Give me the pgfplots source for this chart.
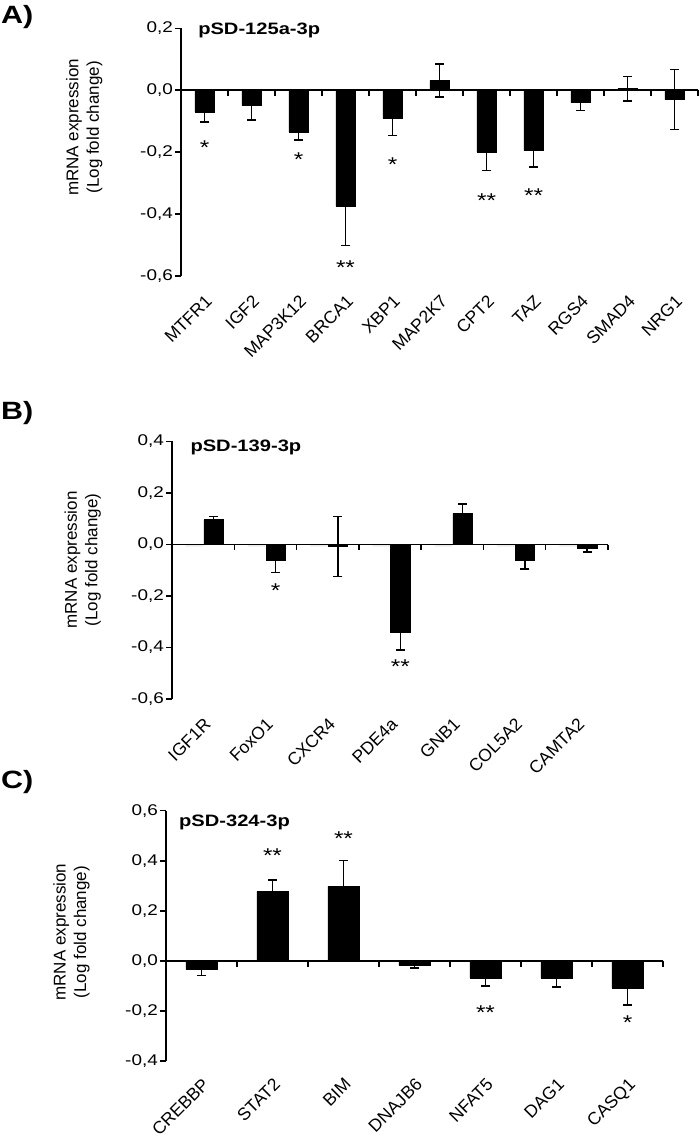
\documentclass[border=0pt]{standalone}
\usepackage{pgfplots}
\pgfplotsset{compat=1.18}
\usepackage{fontspec}
\setmainfont{Liberation Sans}
\newfontfamily\sw{Liberation Sans}[FakeStretch=1.22]
\newcommand\tl{\sw\fontsize{15.5}{18}\selectfont}
\newcommand\xl{\fontsize{17.5}{20}\selectfont}
\newcommand\yl{\fontsize{17}{20.5}\selectfont}
\newcommand\ttl{\sw\bfseries\fontsize{16.5}{18}\selectfont}
\newcommand\pl{\sw\bfseries\fontsize{25}{27}\selectfont}
\newcommand\st{\sw\fontsize{20}{20}\selectfont}
\pgfplotsset{
  panel/.style={
    scale only axis,
    axis y line*=left,
    axis x line*=bottom,
    x axis line style={draw=none},
    xtick style={draw=none},
    y axis line style={line width=1.5pt, -},
    ytick style={line width=1.5pt, black},
    tick align=outside,
    major tick length=6pt,
    yticklabel style={font=\tl, inner sep=2pt},
    xticklabel style={font=\xl, rotate=45, anchor=north east, inner sep=2pt},
    xticklabel shift={9pt},
    ylabel style={font=\yl, align=center, anchor=center},
    clip=false,
  },
  ebar/.style={error bars/.cd, y dir=both, y explicit,
    error mark=-, error mark options={rotate=90, mark size=4.5pt, line width=1.5pt, black},
    error bar style={line width=1.5pt, black}},
  tickmarks/.style={draw=none, mark=none, forget plot,
    error bars/.cd, y dir=minus, y explicit, error mark=none,
    error bar style={draw=black, line width=1.5pt}},
  stars/.style={draw=none, mark=none, forget plot, nodes near coords,
    point meta=explicit symbolic,
    nodes near coords style={anchor=center, font=\st, yshift=-4pt, inner sep=0pt}},
}
\begin{document}
\begin{tikzpicture}
\path[use as bounding box] (0pt,0pt) rectangle (700pt,-1142pt);
\node[anchor=north west, font=\pl, inner sep=0pt] at (1pt,-5pt) {A)};
\node[anchor=north west, font=\pl, inner sep=0pt] at (1pt,-401pt) {B)};
\node[anchor=north west, font=\pl, inner sep=0pt] at (1pt,-770pt) {C)};

% ---------------- Panel A ----------------
\begin{axis}[panel, at={(181pt,-276pt)}, anchor=south west,
  width=517pt, height=247.7pt,
  xmin=-0.5, xmax=10.5, ymin=-0.6, ymax=0.2,
  ytick={-0.6,-0.4,-0.2,0,0.2},
  yticklabels={{-0,6},{-0,4},{-0,2},{0,0},{0,2}},
  xtick={0,...,10},
  xticklabels={MTFR1,IGF2,MAP3K12,BRCA1,XBP1,MAP2K7,CPT2,TAZ,RGS4,SMAD4,NRG1},
  ylabel={mRNA expression\\(Log fold change)},
  ylabel style={at={(axis description cs:-0.187,0.6)}},
]
\addplot[black, line width=1.5pt, forget plot] coordinates {(-0.5,0) (10.5,0)};
\addplot[tickmarks] coordinates {(0.5,0) +- (0,0.02) (1.5,0) +- (0,0.02) (2.5,0) +- (0,0.02) (3.5,0) +- (0,0.02) (4.5,0) +- (0,0.02) (5.5,0) +- (0,0.02) (6.5,0) +- (0,0.02) (7.5,0) +- (0,0.02) (8.5,0) +- (0,0.02) (9.5,0) +- (0,0.02) (10.5,0) +- (0,0.02)};
\addplot[ybar, bar width=0.41, bar shift=0, fill=black, draw=black, ebar] coordinates {
  (0,-0.070) +- (0,0.033)
  (1,-0.049) +- (0,0.047)
  (2,-0.135) +- (0,0.025)
  (3,-0.374) +- (0,0.128)
  (4,-0.091) +- (0,0.055)
  (5,0.031) +- (0,0.053)
  (6,-0.199) +- (0,0.060)
  (7,-0.195) +- (0,0.053)
  (8,-0.040) +- (0,0.025)
  (9,0.005) +- (0,0.040)
  (10,-0.030) +- (0,0.097)
};
\addplot[stars] coordinates {(0,-0.172) [*] (2,-0.210) [*] (3,-0.560) [**] (4,-0.227) [*] (6,-0.345) [**] (7,-0.326) [**]};
\node[anchor=west, font=\ttl, inner sep=0pt] at (axis description cs:0.033,0.99) {pSD-125a-3p};
\end{axis}

% ---------------- Panel B ----------------
\begin{axis}[panel, at={(172pt,-699pt)}, anchor=south west,
  width=436pt, height=257.5pt,
  xmin=-0.5, xmax=6.5, ymin=-0.6, ymax=0.4,
  ytick={-0.6,-0.4,-0.2,0,0.2,0.4},
  yticklabels={{-0,6},{-0,4},{-0,2},{0,0},{0,2},{0,4}},
  xtick={0,...,6},
  xticklabels={IGF1R,FoxO1,CXCR4,PDE4a,GNB1,COL5A2,CAMTA2},
  ylabel={mRNA expression\\(Log fold change)},
  ylabel style={at={(axis description cs:-0.205,0.54)}},
]
\addplot[ybar, bar width=0.28, bar shift=0, fill=gray!15, draw=none, forget plot] coordinates {
  (-0.14,-0.008) (0.86,-0.008) (1.86,-0.008) (2.86,-0.008) (3.86,-0.008) (4.86,-0.008) (5.86,-0.008)};
\addplot[black, line width=1.5pt, forget plot] coordinates {(-0.5,0) (6.5,0)};
\addplot[tickmarks] coordinates {(0.5,0) +- (0,0.023) (1.5,0) +- (0,0.023) (2.5,0) +- (0,0.023) (3.5,0) +- (0,0.023) (4.5,0) +- (0,0.023) (5.5,0) +- (0,0.023) (6.5,0) +- (0,0.023)};
\addplot[ybar, bar width=0.31, bar shift=0, fill=black, draw=black, ebar] coordinates {
  (0.165,0.097) +- (0,0.011)
  (1.165,-0.061) +- (0,0.047)
  (2.165,-0.008) +- (0,0.116)
  (3.165,-0.342) +- (0,0.067)
  (4.165,0.121) +- (0,0.037)
  (5.165,-0.061) +- (0,0.034)
  (6.165,-0.015) +- (0,0.015)
};
\addplot[stars] coordinates {(1.165,-0.163) [*] (3.165,-0.458) [**]};
\node[anchor=west, font=\ttl, inner sep=0pt] at (axis description cs:0.042,0.975) {pSD-139-3p};
\end{axis}

% ---------------- Panel C ----------------
\begin{axis}[panel, at={(166pt,-1061pt)}, anchor=south west,
  width=497pt, height=250.3pt,
  xmin=-0.5, xmax=6.5, ymin=-0.4, ymax=0.6,
  ytick={-0.4,-0.2,0,0.2,0.4,0.6},
  yticklabels={{-0,4},{-0,2},{0,0},{0,2},{0,4},{0,6}},
  xtick={0,...,6},
  xticklabels={CREBBP,STAT2,BIM,DNAJB6,NFAT5,DAG1,CASQ1},
  xticklabel shift={7pt},
  ylabel={mRNA expression\\(Log fold change)},
  ylabel style={at={(axis description cs:-0.19,0.515)}},
]
\addplot[black, line width=1.5pt, forget plot] coordinates {(-0.5,0) (6.5,0)};
\addplot[tickmarks] coordinates {(0.5,0) +- (0,0.024) (1.5,0) +- (0,0.024) (2.5,0) +- (0,0.024) (3.5,0) +- (0,0.024) (4.5,0) +- (0,0.024) (5.5,0) +- (0,0.024) (6.5,0) +- (0,0.024)};
\addplot[ybar, bar width=0.44, bar shift=0, fill=black, draw=black, ebar] coordinates {
  (0,-0.033) +- (0,0.025)
  (1,0.278) +- (0,0.045)
  (2,0.298) +- (0,0.104)
  (3,-0.017) +- (0,0.011)
  (4,-0.068) +- (0,0.032)
  (5,-0.068) +- (0,0.036)
  (6,-0.108) +- (0,0.069)
};
\addplot[stars] coordinates {(1,0.436) [**] (2,0.503) [**] (4,-0.189) [**] (6,-0.229) [*]};
\node[anchor=west, font=\ttl, inner sep=0pt] at (axis description cs:0.026,0.955) {pSD-324-3p};
\end{axis}
\end{tikzpicture}
\end{document}
